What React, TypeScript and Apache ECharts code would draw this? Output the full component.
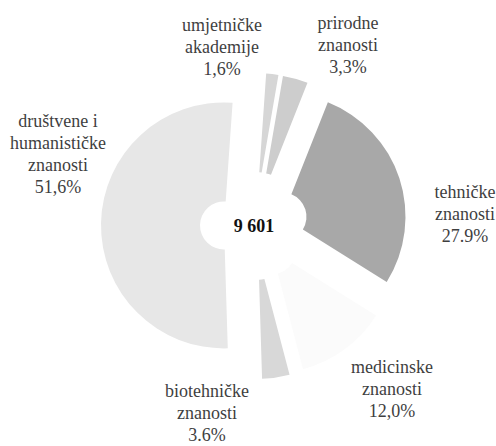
import React, { useEffect, useRef } from "react";
import * as echarts from "echarts";

const CATEGORIES = [
  "umjetničke\nakademije",
  "prirodne\nznanosti",
  "tehničke\nznanosti",
  "medicinske\nznanosti",
  "biotehničke\nznanosti",
  "društvene i\nhumanističke\nznanosti",
];
const SHARES = [1.6, 3.3, 27.9, 12.0, 3.6, 51.6];
const SHARE_LABELS = ["1,6%", "3,3%", "27.9%", "12,0%", "3.6%", "51,6%"];
const TOTAL = 9601;

const COLORS = ["#d6d6d6", "#cdcdcd", "#a8a8a8", "#fbfbfb", "#d8d8d8", "#e7e7e7"];
// label block centres (layout only)
const LABEL_ANCHORS: [number, number][] = [
  [222, 47],
  [348, 45],
  [465, 214],
  [392, 389],
  [207, 413],
  [58, 154],
];

const fmtTotal = (n: number) => String(n).replace(/\B(?=(\d{3})+(?!\d))/g, " ");
const SERIF = "'Times New Roman', 'Liberation Serif', 'DejaVu Serif', serif";

export default function App() {
  const ref = useRef<HTMLDivElement>(null);
  useEffect(() => {
    document.body.style.margin = "0";
    const chart = echarts.init(ref.current!, null, { renderer: "svg" });
    const common = {
      type: "pie",
      center: [254, 226],
      radius: [24, 123],
      startAngle: 86,
      clockwise: true,
    };
    chart.setOption({
      animation: false,
      backgroundColor: "#ffffff",
      textStyle: { fontFamily: SERIF },
      graphic: [
        {
          type: "text",
          x: 254,
          y: 226,
          style: {
            text: fmtTotal(TOTAL),
            fontFamily: SERIF,
            fontWeight: "bold",
            fontSize: 18,
            fill: "#111",
            align: "center",
            verticalAlign: "middle",
          },
        },
      ],
      series: [
        {
          ...common,
          selectedMode: "multiple",
          selectedOffset: 30,
          emphasis: { disabled: true },
          labelLine: { show: false },
          label: { show: false },
          data: SHARES.map((v, i) => ({
            value: v,
            name: CATEGORIES[i],
            selected: true,
            itemStyle: { color: COLORS[i] },
          })),
        },
        {
          ...common,
          silent: true,
          emphasis: { disabled: true },
          itemStyle: { color: "rgba(0,0,0,0)" },
          labelLine: { show: false },
          label: {
            show: true,
            position: "inside",
            overflow: "none",
            fontFamily: SERIF,
            fontSize: 18,
            lineHeight: 22,
            color: "#3f3f3f",
            align: "center",
            formatter: (p: any) => `${CATEGORIES[p.dataIndex]}\n${SHARE_LABELS[p.dataIndex]}`,
          },
          labelLayout: (p: any) => ({
            x: LABEL_ANCHORS[p.dataIndex][0],
            y: LABEL_ANCHORS[p.dataIndex][1],
            align: "center",
            verticalAlign: "middle",
          }),
          data: SHARES.map((v, i) => ({ value: v, name: CATEGORIES[i] })),
        },
      ],
    });
    return () => chart.dispose();
  }, []);
  return (
    <div
      ref={ref}
      style={{ position: "fixed", left: 0, top: 0, width: 496, height: 446 }}
    />
  );
}
